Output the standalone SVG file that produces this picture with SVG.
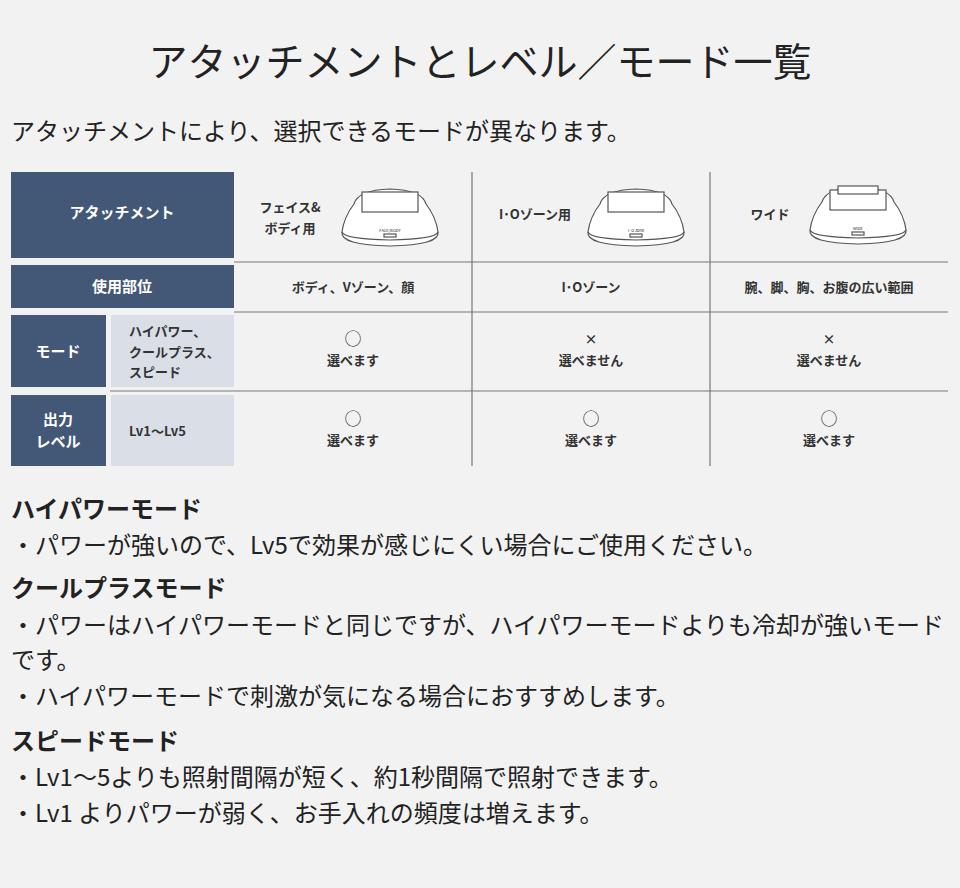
<svg xmlns="http://www.w3.org/2000/svg" width="960" height="888" viewBox="0 0 960 888">
<defs><style>
text{font-family:"Noto Sans CJK JP","Noto Sans",sans-serif;fill:#222}
.dk{fill:#435777}.lt{fill:#d9dee7}
.wt{fill:#fff;font-weight:bold;font-size:15px;text-anchor:middle}
.c{font-size:13px;font-weight:bold;text-anchor:middle;fill:#333}
.s{font-size:13px;font-weight:bold;text-anchor:start;fill:#333}
.o{font-size:17px;text-anchor:middle;fill:#333}
.ln{stroke:#777;stroke-width:1.2}
.h{font-size:24px;font-weight:bold}
.b{font-size:24px}
.dev{fill:#fff;stroke:#555;stroke-width:1.2}
</style>
<g id="devshape">
<path class="dev" d="M-48,20 Q-50,33 0,34 Q50,33 48,20 Q46,5 36,-8 Q32,-22 0,-23 Q-32,-22 -36,-8 Q-46,5 -48,20Z"/>
<path class="dev" d="M-48,20 Q-46,27 0,28 Q46,27 48,20"/>
<rect class="dev" x="-28" y="-20" width="56" height="20"/>
<rect class="dev" x="-6" y="22" width="12" height="3"/>
</g></defs>
<rect width="960" height="888" fill="#f2f2f2"/>
<text x="480" y="76" font-size="39" text-anchor="middle">アタッチメントとレベル／モード一覧</text>
<text x="11" y="140" font-size="24">アタッチメントにより、選択できるモードが異なります。</text>
<g id="connectors">
<line class="ln" x1="234" y1="262" x2="948" y2="262"/>
<line class="ln" x1="234" y1="312" x2="948" y2="312"/>
<line class="ln" x1="110" y1="391" x2="948" y2="391"/>
<line class="ln" x1="472" y1="172" x2="472" y2="466"/>
<line class="ln" x1="710" y1="172" x2="710" y2="466"/>
</g>
<g id="hdr"><rect class="dk" x="11" y="172" width="223" height="86"/><text class="wt" x="122" y="218">アタッチメント</text></g>
<g id="part"><rect class="dk" x="11" y="265" width="223" height="43"/><text class="wt" x="122" y="292">使用部位</text></g>
<g id="mode"><rect class="dk" x="11" y="315" width="95" height="72"/><text class="wt" x="58" y="357">モード</text>
<rect class="lt" x="111" y="315" width="123" height="72"/>
<text class="s" x="129" y="336">ハイパワー、</text><text class="s" x="129" y="357">クールプラス、</text><text class="s" x="129" y="377">スピード</text></g>
<g id="level"><rect class="dk" x="11" y="395" width="95" height="71"/><text class="wt" x="58" y="425">出力</text><text class="wt" x="58" y="447">レベル</text>
<rect class="lt" x="111" y="395" width="123" height="71"/><text class="s" x="129" y="436">Lv1～Lv5</text></g>
<g id="col1"><text class="c" x="290" y="212">フェイス&amp;</text><text class="c" x="290" y="233">ボディ用</text>
<use href="#devshape" x="390" y="212"/><text x="390" y="232" font-size="4" text-anchor="middle" font-family="Liberation Sans">FACE/BODY</text>
<text class="c" x="353" y="292">ボディ、Vゾーン、顔</text>
<text class="o" x="353" y="345">○</text><text class="c" x="353" y="365">選べます</text>
<text class="o" x="353" y="425">○</text><text class="c" x="353" y="445">選べます</text></g>
<g id="col2"><text class="c" x="535" y="219">I･Oゾーン用</text>
<use href="#devshape" x="636" y="212"/><text x="636" y="232" font-size="4" text-anchor="middle" font-family="Liberation Sans">I·O zone</text>
<text class="c" x="591" y="292">I･Oゾーン</text>
<text class="c" x="591" y="344">×</text><text class="c" x="591" y="365">選べません</text>
<text class="o" x="591" y="425">○</text><text class="c" x="591" y="445">選べます</text></g>
<g id="col3"><text class="c" x="770" y="219">ワイド</text>
<use href="#devshape" x="858" y="210"/><rect class="dev" x="838" y="186" width="40" height="8"/><text x="858" y="230" font-size="4" text-anchor="middle" font-family="Liberation Sans">WIDE</text>
<text class="c" x="829" y="292">腕、脚、胸、お腹の広い範囲</text>
<text class="c" x="829" y="344">×</text><text class="c" x="829" y="365">選べません</text>
<text class="o" x="829" y="425">○</text><text class="c" x="829" y="445">選べます</text></g>
<text class="h" x="11" y="518">ハイパワーモード</text>
<text class="b" x="11" y="554">・パワーが強いので、Lv5で効果が感じにくい場合にご使用ください。</text>
<text class="h" x="11" y="597">クールプラスモード</text>
<text class="b" x="11" y="634">・パワーはハイパワーモードと同じですが、ハイパワーモードよりも冷却が強いモード</text>
<text class="b" x="11" y="669">です。</text>
<text class="b" x="11" y="705">・ハイパワーモードで刺激が気になる場合におすすめします。</text>
<text class="h" x="11" y="750">スピードモード</text>
<text class="b" x="11" y="786">・Lv1～5よりも照射間隔が短く、約1秒間隔で照射できます。</text>
<text class="b" x="11" y="822">・Lv1 よりパワーが弱く、お手入れの頻度は増えます。</text>
</svg>
